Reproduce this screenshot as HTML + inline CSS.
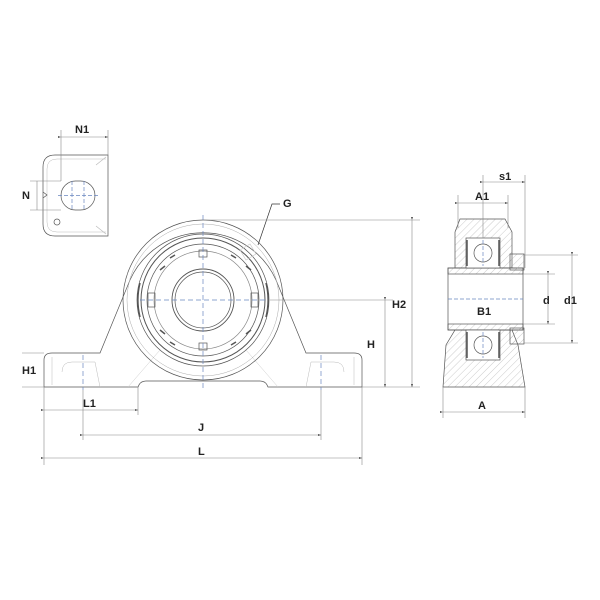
<!DOCTYPE html>
<html><head><style>
html,body{margin:0;padding:0;background:#fff;}
svg{display:block;}
text{font-family:"Liberation Sans",sans-serif;font-weight:bold;font-size:11px;fill:#222;}
</style></head><body>
<svg width="600" height="600" viewBox="0 0 600 600" xmlns="http://www.w3.org/2000/svg">
<defs>
<marker id="ar" markerWidth="6" markerHeight="6" refX="5" refY="3" orient="auto"><path d="M0,1.5 L5,3 L0,4.5z" fill="#333"/></marker>
<pattern id="h" width="5" height="5" patternUnits="userSpaceOnUse" patternTransform="rotate(45)"><line x1="0" y1="0" x2="0" y2="5" stroke="#aaa" stroke-width="0.6"/></pattern>
</defs>
<g fill="none" stroke="#555" stroke-width="0.7">
<path d="M108,155 H55 Q43,155 43,167 V224 Q43,236 55,236 H108 Z"/>
<path d="M106,159 H57 Q47,159 47,169 V222 Q47,232 57,232 H106" stroke="#bbb" stroke-width="0.5"/>
<rect x="61" y="181" width="34" height="29" rx="14.5"/>
<circle cx="57" cy="222" r="3"/>
<path d="M43,192 l4,3 l-4,3"/>
<path d="M96,165 l10,-8 M96,226 l10,8" stroke="#bbb"/>
</g>
<g stroke="#6a86c0" stroke-width="0.7" stroke-dasharray="4,2">
<line x1="72" y1="181" x2="72" y2="210"/><line x1="84" y1="181" x2="84" y2="210"/>
<line x1="58" y1="195.5" x2="98" y2="195.5"/>
</g>
<g stroke="#888" stroke-width="0.6" fill="none">
<line x1="61" y1="130" x2="61" y2="181"/><line x1="108" y1="130" x2="108" y2="155"/>
<line x1="61" y1="137" x2="108" y2="137" marker-end="url(#ar)" marker-start="url(#ar)"/>
<line x1="30" y1="181" x2="61" y2="181"/><line x1="30" y1="210" x2="61" y2="210"/>
<line x1="37" y1="181" x2="37" y2="210"/>
</g>
<text x="75" y="133">N1</text>
<text x="22" y="199">N</text>

<g fill="none" stroke="#555" stroke-width="0.7">
<path d="M44,387 V360 Q44,353 52,353 H100 L130,280 A80,80 0 0 1 276,280 L306,353 H354 Q362,353 362,360 V387 H268 Q266,381 260,381 H146 Q140,381 138,387 Z"/>
<path d="M52,357 V385 M354,357 V385 M62,372 Q62,362 72,362 H95 L100,387 M344,372 Q344,362 334,362 H311 L306,387" stroke="#bbb" stroke-width="0.5"/>
<line x1="128" y1="387" x2="160" y2="350" stroke="#ccc" stroke-width="0.5"/>
<line x1="278" y1="387" x2="246" y2="350" stroke="#ccc" stroke-width="0.5"/>
<circle cx="203" cy="300" r="80"/>
<circle cx="203" cy="300" r="76" stroke="#aaa" stroke-width="0.5"/>
<circle cx="203" cy="300" r="66"/>
<circle cx="203" cy="300" r="62" stroke-width="1"/>
<circle cx="203" cy="300" r="56"/>
<circle cx="203" cy="300" r="49" stroke="#888"/>
<circle cx="203" cy="300" r="31" stroke-width="0.9"/>
<circle cx="203" cy="300" r="28"/>
<rect x="199" y="250" width="8" height="7"/>
<rect x="199" y="343" width="8" height="7"/>
<rect x="148" y="293" width="7" height="14"/>
<rect x="251" y="293" width="7" height="14"/>
<path d="M170,258 l5,-3 M231,255 l5,3 M160,330 l5,4 M246,334 l5,-4 M170,342 l5,3 M231,345 l5,-3 M160,270 l5,-4 M246,266 l5,4" stroke-width="1.5"/>
<path d="M140,283 a70,70 0 0 0 0,34 M266,283 a70,70 0 0 1 0,34" stroke-width="1.5"/>
<path d="M240,250 l10,-6 l6,10 l-10,6z" stroke="#ccc"/>
</g>
<g stroke="#6a86c0" stroke-width="0.7" stroke-dasharray="5,3">
<line x1="203" y1="215" x2="203" y2="390"/>
<line x1="140" y1="300" x2="266" y2="300"/>
<line x1="83" y1="355" x2="83" y2="390"/><line x1="321" y1="355" x2="321" y2="390"/>
</g>
<path d="M258,245 L272,204 H280" fill="none" stroke="#333" stroke-width="0.7"/>
<text x="283" y="207">G</text>

<g stroke="#888" stroke-width="0.6" fill="none">
<line x1="203" y1="220" x2="420" y2="220"/>
<line x1="270" y1="300" x2="393" y2="300"/>
<line x1="362" y1="387" x2="420" y2="387"/>
<line x1="412" y1="220" x2="412" y2="387" marker-end="url(#ar)" marker-start="url(#ar)"/>
<line x1="385" y1="300" x2="385" y2="387" marker-end="url(#ar)" marker-start="url(#ar)"/>
<line x1="22" y1="353" x2="44" y2="353"/><line x1="22" y1="387" x2="44" y2="387"/>
<line x1="44" y1="387" x2="44" y2="465"/><line x1="362" y1="387" x2="362" y2="465"/>
<line x1="138" y1="387" x2="138" y2="415"/>
<line x1="83" y1="390" x2="83" y2="440"/><line x1="321" y1="390" x2="321" y2="440"/>
<line x1="44" y1="410" x2="138" y2="410" marker-end="url(#ar)" marker-start="url(#ar)"/>
<line x1="83" y1="435" x2="321" y2="435" marker-end="url(#ar)" marker-start="url(#ar)"/>
<line x1="44" y1="458" x2="362" y2="458" marker-end="url(#ar)" marker-start="url(#ar)"/>
</g>
<text x="392" y="308">H2</text>
<text x="367" y="348">H</text>
<text x="22" y="374">H1</text>
<text x="83" y="407">L1</text>
<text x="198" y="431">J</text>
<text x="198" y="455">L</text>

<g fill="none" stroke="#555" stroke-width="0.7">
<path d="M455,232 L460,219 H505 L512,232 V268 H455z" fill="url(#h)"/>
<path d="M443,387 L446,345 L455,330 H512 L518,345 L525,387 Z" fill="url(#h)"/>
<rect x="448" y="268" width="75" height="62" fill="#fff"/>
<rect x="448" y="268" width="75" height="6" fill="url(#h)"/>
<rect x="448" y="324" width="75" height="6" fill="url(#h)"/>
<rect x="510" y="254" width="14" height="16" fill="url(#h)"/>
<rect x="510" y="328" width="14" height="16" fill="url(#h)"/>
<rect x="466" y="238" width="34" height="30" fill="#fff"/>
<circle cx="483" cy="253" r="9"/>
<rect x="466" y="330" width="34" height="30" fill="#fff"/>
<circle cx="483" cy="345" r="9"/>
<path d="M467,240 V266 M499,240 V266 M467,332 V358 M499,332 V358" stroke-width="1.5"/>
</g>
<g stroke="#6a86c0" stroke-width="0.7" stroke-dasharray="4,2">
<line x1="448" y1="299" x2="523" y2="299"/>
<line x1="483" y1="240" x2="483" y2="266"/><line x1="483" y1="332" x2="483" y2="358"/>
</g>
<g stroke="#888" stroke-width="0.6" fill="none">
<line x1="458" y1="195" x2="458" y2="228"/><line x1="508" y1="195" x2="508" y2="228"/>
<line x1="483" y1="175" x2="483" y2="238"/><line x1="525" y1="175" x2="525" y2="268"/>
<line x1="458" y1="203" x2="508" y2="203" marker-end="url(#ar)" marker-start="url(#ar)"/>
<line x1="483" y1="182" x2="525" y2="182" marker-end="url(#ar)" marker-start="url(#ar)"/>
<line x1="523" y1="274" x2="555" y2="274"/><line x1="523" y1="324" x2="555" y2="324"/>
<line x1="524" y1="255" x2="578" y2="255"/><line x1="524" y1="343" x2="578" y2="343"/>
<line x1="548" y1="274" x2="548" y2="324" marker-end="url(#ar)" marker-start="url(#ar)"/>
<line x1="572" y1="255" x2="572" y2="343" marker-end="url(#ar)" marker-start="url(#ar)"/>
<line x1="443" y1="387" x2="443" y2="418"/><line x1="525" y1="387" x2="525" y2="418"/>
<line x1="443" y1="412" x2="525" y2="412" marker-end="url(#ar)" marker-start="url(#ar)"/>
</g>
<text x="475" y="200">A1</text>
<text x="499" y="180">s1</text>
<text x="477" y="315">B1</text>
<text x="543" y="304">d</text>
<text x="564" y="304">d1</text>
<text x="478" y="409">A</text>
</svg>
</body></html>
